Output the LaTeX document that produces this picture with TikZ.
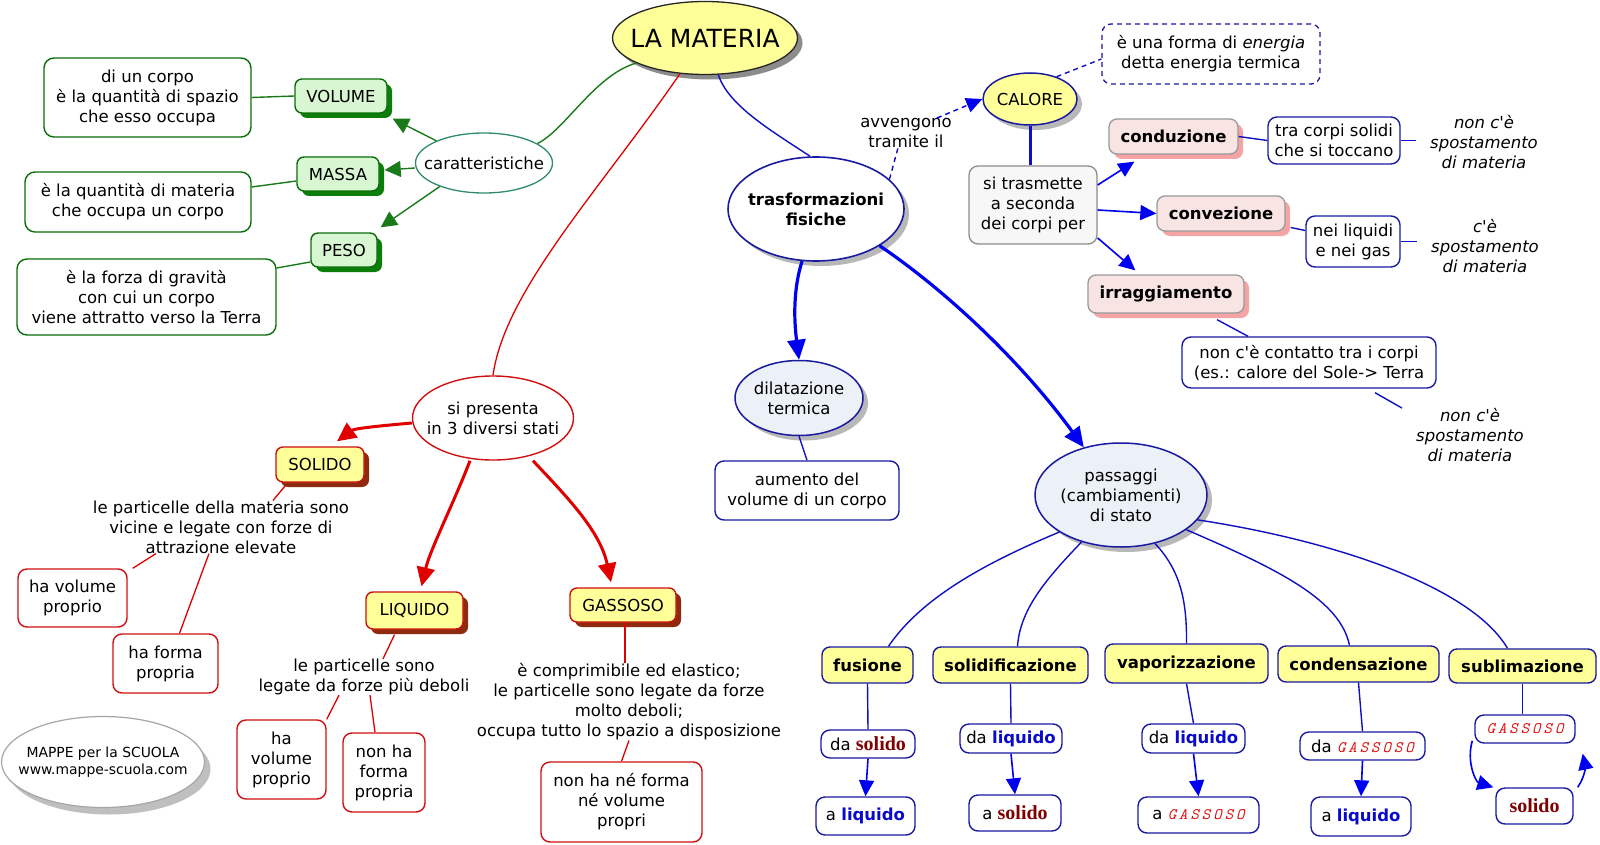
\documentclass[tikz,border=0pt]{standalone}
\usepackage{fontspec}
\setmainfont{DejaVu Sans}[Ligatures=TeXOff]
\newfontfamily\serifb{Liberation Serif}
\usetikzlibrary{shapes.geometric,arrows.meta,shadows}
\definecolor{myyellow}{HTML}{FFFF99}
\definecolor{gfill}{HTML}{D9F6D2}
\definecolor{gdark}{HTML}{0A6E0A}
\definecolor{gshad}{HTML}{0B7D0B}
\definecolor{glinec}{HTML}{1A7A1A}
\definecolor{teal1}{HTML}{2E8B6E}
\definecolor{rlinec}{HTML}{E00000}
\definecolor{rbord}{HTML}{D01010}
\definecolor{bshad}{HTML}{8E2A0E}
\definecolor{blinec}{HTML}{1010C0}
\definecolor{barrowc}{HTML}{0000F0}
\definecolor{bbord}{HTML}{1A1AA0}
\definecolor{pfill}{HTML}{F9E4E4}
\definecolor{pshad}{HTML}{F4A4A4}
\definecolor{lbfill}{HTML}{EBF1F6}
\definecolor{gshadow}{HTML}{B8B8B8}
\definecolor{dred}{HTML}{800000}
\definecolor{tblue}{HTML}{0A0ACC}
\definecolor{gasred}{HTML}{E01010}
\newcommand\mfs{\fontsize{16.5}{20}\selectfont}
\newcommand\solx{\textcolor{dred}{\serifb\bfseries\fontsize{20}{20}\selectfont solido}}
\newcommand\liqx{\textcolor{tblue}{\bfseries liquido}}
\newcommand\gasx{\textcolor{gasred}{\ttfamily\itshape\fontsize{16}{16}\selectfont G\kern3pt A\kern3pt S\kern3pt S\kern3pt O\kern3pt S\kern3pt O}}
\begin{document}
\begin{tikzpicture}[x=1pt,y=-1pt,font=\mfs,
  every node/.style={align=center, inner sep=0pt},
  every label/.style={align=center, inner sep=0pt},
  sz/.style 2 args={minimum width=#1pt, minimum height=#2pt},
  ell/.style 2 args={ellipse, minimum width=#1pt, minimum height=#2pt},
  shad/.style={drop shadow={shadow xshift=5pt, shadow yshift=-5pt, fill=#1, opacity=1}},
  gbox/.style={rectangle, rounded corners=7pt, draw=gdark, fill=gfill, line width=1.4pt, shad=gshad},
  gtxt/.style={rectangle, rounded corners=10pt, draw=gdark, fill=white, line width=1.4pt},
  ybox/.style={rectangle, rounded corners=7pt, draw=rbord, fill=myyellow, line width=1.4pt, shad=bshad},
  rtxt/.style={rectangle, rounded corners=9pt, draw=rbord, fill=white, line width=1.4pt},
  btxt/.style={rectangle, rounded corners=9pt, draw=bbord, fill=white, line width=1.4pt},
  pbox/.style={rectangle, rounded corners=8pt, draw=black!40, fill=pfill, line width=1.3pt, shad=pshad, font=\mfs\bfseries},
  fbox/.style={rectangle, rounded corners=8pt, draw=bbord, fill=myyellow, line width=1.4pt, font=\mfs\bfseries},
  itx/.style={font=\mfs\itshape},
  gl/.style={draw=glinec, line width=1.4pt},
  ga/.style={gl, -{Triangle[length=16pt,width=16pt]}},
  rl/.style={draw=rlinec, line width=1.3pt},
  ra/.style={draw=rlinec, line width=3pt, -{Triangle[length=19pt,width=18pt]}},
  bl/.style={draw=blinec, line width=1.4pt},
  ba/.style={draw=barrowc, line width=1.6pt, -{Triangle[length=16pt,width=15pt]}},
  bba/.style={draw=barrowc, line width=3.2pt, -{Triangle[length=20pt,width=18pt]}},
  dsh/.style={dash pattern=on 5pt off 4pt}]
\fill[white] (0,0) rectangle (1600,845);
\useasboundingbox (0,0) rectangle (1600,845);

% ---- top / green part
\node[ell={185}{73}, draw=black!85, fill=myyellow, line width=1.3pt, shad=black!45,
  label={[font=\fontsize{25}{30}\selectfont]center:LA MATERIA}] (mat) at (705,38) {};
\node[ell={137}{60}, draw=teal1, fill=white, line width=1.3pt, label=center:caratteristiche] (car) at (484,163) {};
\node[gbox, sz={92}{34}] (vol) at (341,96) {VOLUME};
\node[gbox, sz={82}{34}] (mas) at (338,174) {MASSA};
\node[gbox, sz={66}{34}] (pes) at (344,250) {PESO};
\node[gtxt, sz={207}{79}] (dvol) at (147.5,97.5) {di un corpo\\è la quantità di spazio\\che esso occupa};
\node[gtxt, sz={226}{60}] (dmas) at (138,202) {è la quantità di materia\\che occupa un corpo};
\node[gtxt, sz={259}{76}] (dpes) at (146.5,297) {è la forza di gravità\\con cui un corpo\\viene attratto verso la Terra};

% ---- blue part
\node[ell={176}{104}, draw=bbord, fill=white, line width=1.6pt, shad=gshadow,
  label={[font=\mfs\bfseries]center:trasformazioni\\fisiche}] (tra) at (816,209) {};
\node (avv) at (906,133) {avvengono\\tramite il};
\node[ell={94}{52}, draw=bbord, fill=myyellow, line width=1.5pt, shad=gshadow, label=center:CALORE] (cal) at (1030,99) {};
\node[rectangle, rounded corners=9pt, draw=bbord, line width=1.3pt, dsh, sz={218}{60}] (enr) at (1211,54) {è una forma di \textit{energia}\\detta energia termica};
\node[rectangle, rounded corners=9pt, draw=black!45, fill=black!3, line width=1.3pt, sz={128}{78}] (sit) at (1033,205) {si trasmette\\a seconda\\dei corpi per};
\node[pbox, sz={129}{35}] (con) at (1173.5,136.5) {conduzione};
\node[pbox, sz={128}{35}] (cnv) at (1221,213.5) {convezione};
\node[pbox, sz={156}{38}] (irr) at (1166,294) {irraggiamento};
\node[btxt, sz={132}{47}] (tcs) at (1334,140.5) {tra corpi solidi\\che si toccano};
\node[btxt, sz={94}{51}] (nlg) at (1353,241.5) {nei liquidi\\e nei gas};
\node[btxt, sz={254}{51}] (ncc) at (1309,362.5) {non c'è contatto tra i corpi\\(es.: calore del Sole-> Terra};
\node[itx] (it1) at (1484,142) {non c'è\\spostamento\\di materia};
\node[itx] (it2) at (1485,246) {c'è\\spostamento\\di materia};
\node[itx] (it3) at (1470,435) {non c'è\\spostamento\\di materia};
\node[ell={128}{75}, draw=bbord, fill=lbfill, line width=1.5pt, shad=gshadow, label=center:{dilatazione\\termica}] (dil) at (799,398) {};
\node[btxt, sz={184}{59}] (aum) at (807,490.5) {aumento del\\volume di un corpo};
\node[ell={172}{104}, draw=bbord, fill=lbfill, line width=1.5pt, shad=gshadow, label=center:{passaggi\\(cambiamenti)\\di stato}] (pas) at (1121,495) {};
\node[fbox, sz={91}{36}] (fus) at (867.5,665) {fusione};
\node[fbox, sz={155}{36}] (sol) at (1010.5,665) {solidificazione};
\node[fbox, sz={163}{39}] (vap) at (1186.5,663.5) {vaporizzazione};
\node[fbox, sz={161}{36}] (cnd) at (1358.5,664) {condensazione};
\node[fbox, sz={147}{34}] (sub) at (1522.5,666) {sublimazione};
\node[btxt, sz={94}{28}] (f1) at (868,744) {da \solx};
\node[btxt, sz={99}{38}] (f2) at (865.5,816) {a \liqx};
\node[btxt, sz={102}{29}] (s1) at (1011,738.5) {da \liqx};
\node[btxt, sz={92}{36}] (s2) at (1015,813) {a \solx};
\node[btxt, sz={103}{29}] (v1) at (1193.5,738.5) {da \liqx};
\node[btxt, sz={121}{36}] (v2) at (1198.5,815) {a \gasx};
\node[btxt, sz={125}{28}] (c1) at (1362.5,746) {da \gasx};
\node[btxt, sz={100}{39}] (c2) at (1361,816.5) {a \liqx};
\node[btxt, sz={100}{28}] (b1) at (1525,729) {\gasx};
\node[btxt, sz={77}{36}] (b2) at (1534.5,806) {\solx};

% ---- red part
\node[ell={161}{84}, draw=rbord, fill=white, line width=1.4pt, label=center:{si presenta\\in 3 diversi stati}] (spr) at (493,418) {};
\node[ybox, sz={88}{35}] (SOL) at (320,464.5) {SOLIDO};
\node[ybox, sz={97}{37}] (LIQ) at (414.5,610.5) {LIQUIDO};
\node[ybox, sz={106}{34}] (GAS) at (623,605) {GASSOSO};
\node (t1) at (221,527) {le particelle della materia sono\\vicine e legate con forze di\\attrazione elevate};
\node[rtxt, sz={109}{58}] (r1) at (72.5,598) {ha volume\\proprio};
\node[rtxt, sz={105}{59}] (r2) at (165.5,663.5) {ha forma\\propria};
\node (t2) at (364,677) {le particelle sono\\legate da forze più deboli};
\node[rtxt, sz={89}{79}] (r3) at (281.5,759.5) {ha\\volume\\proprio};
\node[rtxt, sz={82}{79}] (r4) at (384,772.5) {non ha\\forma\\propria};
\node (t3) at (629,702) {è comprimibile ed elastico;\\le particelle sono legate da forze\\molto deboli;\\occupa tutto lo spazio a disposizione};
\node[rtxt, sz={161}{80}] (r5) at (621.5,802) {non ha né forma\\né volume\\propri};
\node[ell={203}{91}, draw=black!35, fill=white, line width=1.2pt,
  drop shadow={shadow xshift=6pt, shadow yshift=-7pt, fill=black!25, opacity=1},
  label={[font=\fontsize{13.9}{17}\selectfont]center:{MAPPE per la SCUOLA\\www.mappe-scuola.com}}] (map) at (103,762) {};

% ---- green connectors
\draw[ga] (car.155) -- ([shift={(5pt,-5pt)}]vol.south east);
\draw[ga] ([yshift=-5pt]car.west) -- ([shift={(5pt,4pt)}]mas.east);
\draw[ga] (car.208) -- ([shift={(3pt,5pt)}]pes.north east);
\draw[gl] (dvol.east) -- (vol.west);
\draw[gl] ([yshift=15pt]dmas.east) -- ([yshift=-7pt]mas.west);
\draw[gl] ([yshift=29pt]dpes.east) -- ([yshift=-12pt]pes.west);
\draw[gl] (car.20) .. controls (565,130) and (595,75) .. (mat.200);

% ---- red connectors
\draw[rl] (mat.235) .. controls (600,190) and (505,290) .. (spr.north);
\draw[ra] ([yshift=-5pt]spr.west) .. controls (390,425) and (355,428) .. ([shift={(17pt,5pt)}]SOL.north);
\draw[ra] ([xshift=-23pt]spr.south) .. controls (455,500) and (430,550) .. ([shift={(7pt,5pt)}]LIQ.north);
\draw[ra] ([xshift=40pt]spr.south) .. controls (565,495) and (600,530) .. ([shift={(-12pt,5pt)}]GAS.north);
\draw[rl] ([shift={(10pt,-3pt)}]SOL.south west) -- ([xshift=52pt]t1.north);
\draw[rl] ([xshift=-65pt]t1.south) -- ([xshift=5pt]r1.north east);
\draw[rl] ([xshift=-12pt]t1.south) -- ([xshift=14pt]r2.north);
\draw[rl] ([shift={(-20pt,-5pt)}]LIQ.south) -- ([xshift=19pt]t2.north);
\draw[rl] ([xshift=-25pt]t2.south) -- (r3.north east);
\draw[rl] ([xshift=6pt]t2.south) -- ([xshift=-9pt]r4.north);
\draw[rl] ([xshift=2pt]GAS.south) -- ([xshift=-4pt]t3.north);
\draw[rl] (t3.south) -- (r5.north);

% ---- blue connectors
\draw[bl] (mat.290) .. controls (728,105) and (770,130) .. ([xshift=-6pt]tra.north);
\draw[bba] (tra.255) .. controls (793,290) and (794,320) .. (dil.north);
\draw[bba] (tra.330) .. controls (945,290) and (1020,360) .. (pas.128);
\draw[bl, dsh] (tra.22) -- ([xshift=-8pt]avv.south);
\draw[ba, line width=1.4pt, dsh] ([xshift=-15pt]avv.north east) -- (cal.west);
\draw[bl, dsh] (cal.40) -- ([yshift=-5pt]enr.west);
\draw[draw=blinec, line width=3pt] (cal.south) -- (cal.south |- sit.north);
\draw[ba] ([yshift=20pt]sit.east) -- ([shift={(26pt,-7pt)}]con.south west);
\draw[ba] ([yshift=-5pt]sit.east) -- (cnv.west);
\draw[ba] ([yshift=-33pt]sit.east) -- ([shift={(48pt,4pt)}]irr.north west);
\draw[bl] (con.east) -- (tcs.west);
\draw[bl, shorten >=14pt] (tcs.east) -- (tcs.east -| it1.west);
\draw[bl] ([shift={(5pt,-14pt)}]cnv.east) -- ([yshift=11pt]nlg.west);
\draw[bl, shorten >=14pt] (nlg.east) -- (nlg.east -| it2.west);
\draw[bl] ([shift={(51pt,-6pt)}]irr.south) -- ([xshift=-61pt]ncc.north);
\draw[bl] ([shift={(66pt,-4pt)}]ncc.south) -- ([xshift=-68pt]it3.north);
\draw[bl] (dil.south) -- (aum.north);
\draw[bl] (pas.211) .. controls (980,565) and (920,600) .. ([xshift=21pt]fus.north);
\draw[bl] (pas.230) .. controls (1045,580) and (1020,610) .. ([xshift=7pt]sol.north);
\draw[bl] (pas.305) .. controls (1180,570) and (1187,600) .. (vap.north);
\draw[bl] (pas.332) .. controls (1280,570) and (1340,600) .. ([xshift=-9pt]cnd.north);
\draw[bl] (pas.342) .. controls (1330,540) and (1470,585) .. ([xshift=-15pt]sub.north);
\draw[bl] (fus.south) -- (f1.north);
\draw[ba] (f1.south) -- (f2.north);
\draw[bl] (sol.south) -- (s1.north);
\draw[ba] (s1.south) -- (s2.north);
\draw[bl] (vap.south) -- (v1.north);
\draw[ba] (v1.south) -- (v2.north);
\draw[bl] (cnd.south) -- (c1.north);
\draw[ba] (c1.south) -- (c2.north);
\draw[bl] (sub.south) -- (sub.south |- b1.north);
\draw[ba] ([shift={(-2pt,3pt)}]b1.south west) .. controls (1466,762) and (1476,782) .. ([xshift=-2pt]b2.north west);
\draw[ba] ([xshift=4pt]b2.north east) .. controls (1586,775) and (1585,765) .. ([shift={(7pt,-10pt)}]b1.south east);
\end{tikzpicture}
\end{document}
